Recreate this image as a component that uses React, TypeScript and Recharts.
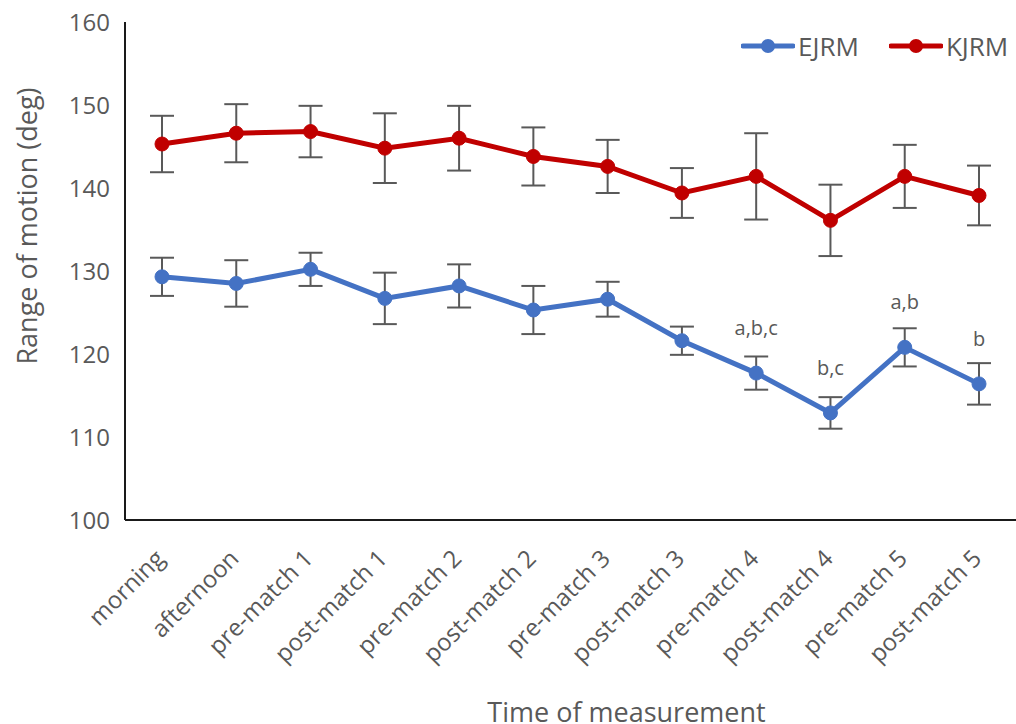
import React from 'react';
import { LineChart, Line, XAxis, YAxis, ErrorBar, Label, LabelList } from 'recharts';

const categories = ['morning', 'afternoon', 'pre-match 1', 'post-match 1', 'pre-match 2', 'post-match 2', 'pre-match 3', 'post-match 3', 'pre-match 4', 'post-match 4', 'pre-match 5', 'post-match 5'];
const ejrm = [129.3, 128.5, 130.2, 126.7, 128.2, 125.3, 126.6, 121.6, 117.7, 112.9, 120.8, 116.4];
const ejrmErr = [2.3, 2.8, 2.0, 3.1, 2.6, 2.9, 2.1, 1.7, 2.0, 1.9, 2.3, 2.5];
const kjrm = [145.3, 146.6, 146.8, 144.8, 146.0, 143.8, 142.6, 139.4, 141.4, 136.1, 141.4, 139.1];
const kjrmErr = [3.4, 3.5, 3.1, 4.2, 3.9, 3.5, 3.2, 3.0, 5.2, 4.3, 3.8, 3.6];
const sigLabels = ['', '', '', '', '', '', '', '', 'a,b,c', 'b,c', 'a,b', 'b'];
const yTicks = [100, 110, 120, 130, 140, 150, 160];
const seriesNames = ['EJRM', 'KJRM'];

const data = categories.map((c, i) => ({
  name: c,
  EJRM: ejrm[i],
  eErr: ejrmErr[i],
  KJRM: kjrm[i],
  kErr: kjrmErr[i],
  sig: sigLabels[i],
}));

const BLUE = '#4472C4';
const RED = '#C00000';
const GREY = '#595959';
const FONT = '"Open Sans", sans-serif';
const seriesColors = [BLUE, RED];

const XTick = (props: any) => {
  const { x, y, payload } = props;
  const px = x + 4;
  const py = y + 40;
  return (
    <text x={px} y={py} textAnchor="end" fill={GREY} fontSize={24} fontFamily={FONT} transform={`rotate(-45, ${px}, ${py})`}>
      {payload.value}
    </text>
  );
};

const SigLabel = (props: any) => {
  const { x, y, value } = props;
  if (!value) return null;
  return (
    <text x={x} y={y - 38} textAnchor="middle" fill={GREY} fontSize={20} fontFamily={FONT}>
      {value}
    </text>
  );
};

const LegendBox = () => (
  <div style={{ position: 'absolute', top: 31, left: 741, display: 'flex', alignItems: 'center', fontFamily: FONT, fontSize: 26, color: GREY }}>
    {seriesNames.map((n, i) => (
      <div key={n} style={{ display: 'flex', alignItems: 'center', marginRight: i === 0 ? 30 : 0 }}>
        <svg width={54} height={20} style={{ marginRight: 3 }}>
          <line x1={2} y1={10} x2={52} y2={10} stroke={seriesColors[i]} strokeWidth={5} strokeLinecap="round" />
          <circle cx={27} cy={10} r={7} fill={seriesColors[i]} />
        </svg>
        <span style={{ lineHeight: '30px' }}>{n}</span>
      </div>
    ))}
  </div>
);

export default function App() {
  return (
    <div style={{ position: 'absolute', left: 0, top: 0, width: 1016, height: 724, background: '#fff', overflow: 'hidden' }}>
      <LineChart width={1016} height={724} data={data} margin={{ top: 22, right: 0, left: 0, bottom: 0 }}>
        <XAxis
          dataKey="name"
          height={204}
          tick={<XTick />}
          tickLine={false}
          tickSize={0}
          tickMargin={0}
          interval={0}
          padding={{ left: 37, right: 37 }}
          axisLine={{ stroke: '#1a1a1a', strokeWidth: 2 }}
        >
          <Label value="Time of measurement" position="insideBottom" offset={2} dx={56} fill={GREY} fontSize={27} fontFamily={FONT} />
        </XAxis>
        <YAxis
          width={125}
          domain={[100, 160]}
          ticks={yTicks}
          tickLine={false}
          tickSize={0}
          tickMargin={15}
          tick={{ fill: GREY, fontSize: 24, fontFamily: FONT }}
          axisLine={{ stroke: '#1a1a1a', strokeWidth: 2 }}
          allowDataOverflow
        >
          <Label value="Range of motion (deg)" angle={-90} position="insideLeft" offset={27} dy={-45} fill={GREY} fontSize={27} fontFamily={FONT} style={{ textAnchor: 'middle' }} />
        </YAxis>
        <Line
          dataKey="EJRM"
          stroke={BLUE}
          strokeWidth={5}
          dot={{ r: 7, fill: BLUE, stroke: BLUE, strokeWidth: 1 }}
          activeDot={false}
          isAnimationActive={false}
        >
          <ErrorBar dataKey="eErr" direction="y" width={12} stroke={GREY} strokeWidth={2} />
          <LabelList dataKey="sig" content={<SigLabel />} />
        </Line>
        <Line
          dataKey="KJRM"
          stroke={RED}
          strokeWidth={5}
          dot={{ r: 7, fill: RED, stroke: RED, strokeWidth: 1 }}
          activeDot={false}
          isAnimationActive={false}
        >
          <ErrorBar dataKey="kErr" direction="y" width={12} stroke={GREY} strokeWidth={2} />
        </Line>
      </LineChart>
      <LegendBox />
    </div>
  );
}
